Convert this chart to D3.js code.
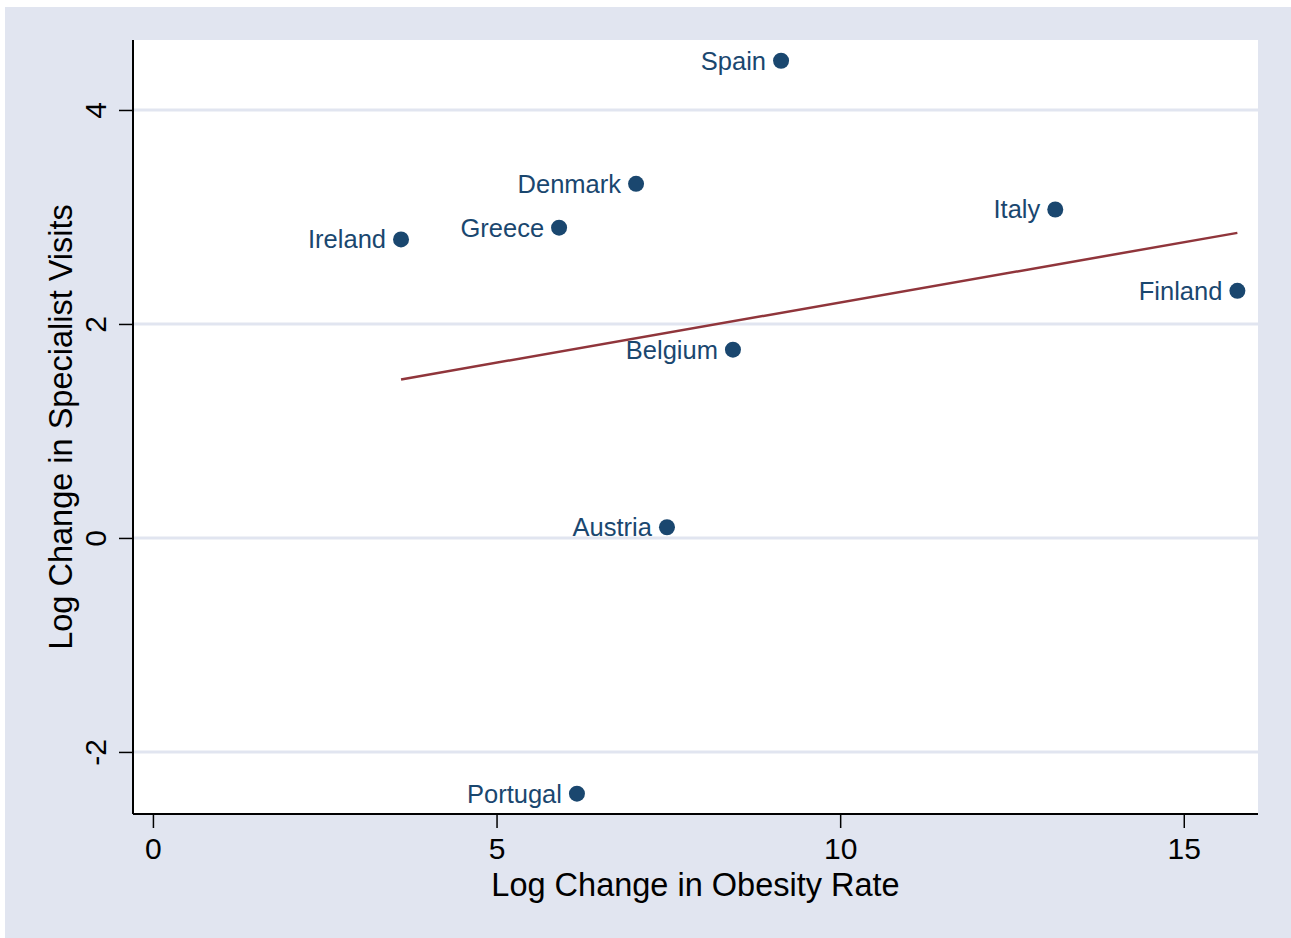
<!DOCTYPE html>
<html>
<head>
<meta charset="utf-8">
<script src="https://cdn.jsdelivr.net/npm/d3@7"></script>
<style>
  body { margin: 0; background: #fff; }
  text { font-family: "Liberation Sans", Arial, sans-serif; }
</style>
</head>
<body>
<div id="chart"></div>
<script>
// countries and their values
var countries = ["Spain", "Denmark", "Italy", "Greece", "Ireland", "Finland", "Belgium", "Austria", "Portugal"];
var obesity = [9.14, 7.03, 13.13, 5.91, 3.61, 15.78, 8.44, 7.48, 6.17];
var specialist = [4.46, 3.31, 3.07, 2.90, 2.79, 2.31, 1.76, 0.10, -2.39];
var xTicks = [0, 5, 10, 15];
var yTicks = [-2, 0, 2, 4];

var W = 1291, H = 938;
var pL = 133, pR = 1258, pT = 40, pB = 814;
var navy = "#1a476f", maroon = "#90353b", bg = "#e1e5f0";

var svg = d3.select("#chart").append("svg")
  .attr("width", W)
  .attr("height", H);

svg.append("rect")
  .attr("x", 5).attr("y", 7)
  .attr("width", W - 5).attr("height", H - 7)
  .attr("fill", bg);

svg.append("rect")
  .attr("x", pL).attr("y", pT)
  .attr("width", pR - pL).attr("height", pB - pT)
  .attr("fill", "white");

var x = d3.scaleLinear().domain([-0.29, 16.08]).range([pL, pR]);
var y = d3.scaleLinear().domain([-2.58, 4.654]).range([pB, pT]);

// gridlines
svg.selectAll(".grid").data(yTicks).enter().append("line")
  .attr("x1", pL).attr("x2", pR)
  .attr("y1", function(d){ return y(d); })
  .attr("y2", function(d){ return y(d); })
  .attr("stroke", bg)
  .attr("stroke-width", 3);

// x axis
var xAxis = svg.append("g")
  .attr("transform", "translate(0," + pB + ")")
  .call(d3.axisBottom(x).tickValues(xTicks).tickFormat(String).tickSize(14).tickPadding(10).tickSizeOuter(0));
xAxis.select(".domain").attr("stroke", "black").attr("stroke-width", 2).attr("d", "M" + pL + ",0H" + pR);
xAxis.selectAll("text").style("font-size", "30px").attr("fill", "black").attr("font-family", "Liberation Sans");
xAxis.selectAll("line").attr("stroke", "black").attr("stroke-width", 1.5);

// y axis (labels use a plain hyphen, like the original)
var yAxis = svg.append("g")
  .attr("transform", "translate(" + pL + ",0)")
  .call(d3.axisLeft(y).tickValues(yTicks).tickFormat(String).tickSize(14).tickSizeOuter(0));
yAxis.select(".domain").attr("stroke", "black").attr("stroke-width", 2).attr("d", "M0," + pT + "V" + pB);
yAxis.selectAll("line").attr("stroke", "black").attr("stroke-width", 1.5);
yAxis.selectAll("text")
  .attr("x", 0).attr("y", 0).attr("dy", null)
  .attr("text-anchor", "middle")
  .attr("transform", "translate(-27,0) rotate(-90)")
  .style("font-size", "30px").attr("fill", "black").attr("font-family", "Liberation Sans");

// titles
svg.append("text")
  .text("Log Change in Obesity Rate")
  .attr("x", (pL + pR) / 2).attr("y", 896)
  .attr("text-anchor", "middle")
  .style("font-size", "32.5px");

svg.append("text")
  .text("Log Change in Specialist Visits")
  .attr("transform", "translate(72," + (pT + pB) / 2 + ") rotate(-90)")
  .attr("text-anchor", "middle")
  .style("font-size", "32.5px");

// fitted line
var mx = d3.mean(obesity), my = d3.mean(specialist);
var slope = d3.sum(obesity, function(v, i){ return (v - mx) * (specialist[i] - my); }) /
            d3.sum(obesity, function(v){ return (v - mx) * (v - mx); });
var x0 = d3.min(obesity), x1 = d3.max(obesity);
svg.append("line")
  .attr("x1", x(x0)).attr("y1", y(my + slope * (x0 - mx)))
  .attr("x2", x(x1)).attr("y2", y(my + slope * (x1 - mx)))
  .attr("stroke", maroon)
  .attr("stroke-width", 2.5);

// points and labels
var idx = d3.range(countries.length);
svg.selectAll(".pt").data(idx).enter().append("circle")
  .attr("cx", function(i){ return x(obesity[i]); })
  .attr("cy", function(i){ return y(specialist[i]); })
  .attr("r", 8)
  .attr("fill", navy);

svg.selectAll(".lab").data(idx).enter().append("text")
  .text(function(i){ return countries[i]; })
  .attr("x", function(i){ return x(obesity[i]) - 15; })
  .attr("y", function(i){ return y(specialist[i]); })
  .attr("dy", "0.35em")
  .attr("text-anchor", "end")
  .attr("fill", navy)
  .style("font-size", "25.5px");
</script>
</body>
</html>
